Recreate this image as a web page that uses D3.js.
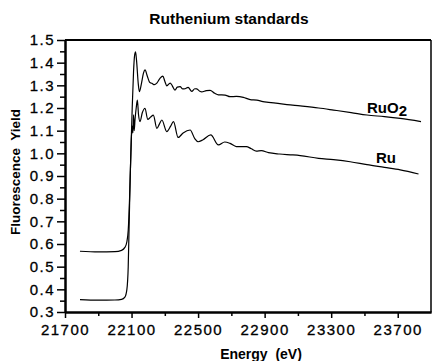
<!DOCTYPE html>
<html>
<head>
<meta charset="utf-8">
<script src="https://cdn.jsdelivr.net/npm/d3@7"></script>
<style>
  body { margin: 0; background: #fff; }
</style>
</head>
<body>
<script>
// energies (eV) and fluorescence yield
const ruo2Energy = [21790, 21900, 22000, 22040, 22060, 22072, 22080, 22088, 22096, 22104, 22112, 22118, 22124, 22130, 22140, 22147, 22160, 22172, 22181, 22195, 22210, 22222, 22237, 22252, 22270, 22288, 22300, 22312, 22332, 22345, 22361, 22375, 22392, 22408, 22422, 22440, 22462, 22480, 22492, 22510, 22522, 22550, 22572, 22600, 22622, 22662, 22692, 22730, 22772, 22813, 22853, 22890, 22923, 22980, 23034, 23114, 23224, 23314, 23420, 23515, 23620, 23715, 23840];
const ruo2Yield = [0.568, 0.565, 0.566, 0.572, 0.585, 0.61, 0.66, 0.8, 1.0, 1.2, 1.36, 1.43, 1.448, 1.41, 1.31, 1.272, 1.31, 1.355, 1.368, 1.34, 1.312, 1.309, 1.303, 1.31, 1.33, 1.341, 1.318, 1.298, 1.31, 1.298, 1.279, 1.292, 1.294, 1.284, 1.285, 1.291, 1.273, 1.285, 1.284, 1.274, 1.271, 1.277, 1.278, 1.265, 1.258, 1.257, 1.25, 1.251, 1.247, 1.237, 1.235, 1.228, 1.225, 1.22, 1.215, 1.209, 1.2, 1.191, 1.18, 1.169, 1.162, 1.154, 1.14];

const ruEnergy = [21790, 21900, 22000, 22040, 22060, 22072, 22080, 22086, 22092, 22098, 22104, 22108, 22112, 22116, 22121, 22128, 22135, 22142, 22151, 22165, 22181, 22197, 22215, 22231, 22252, 22268, 22282, 22312, 22335, 22352, 22380, 22410, 22452, 22480, 22500, 22530, 22576, 22622, 22660, 22692, 22730, 22790, 22820, 22850, 22880, 22923, 22990, 23070, 23114, 23224, 23314, 23414, 23515, 23620, 23715, 23825];
const ruYield = [0.355, 0.352, 0.353, 0.356, 0.366, 0.4, 0.5, 0.7, 0.9, 1.05, 1.12, 1.09, 1.17, 1.1, 1.15, 1.2, 1.235, 1.17, 1.14, 1.18, 1.199, 1.15, 1.16, 1.169, 1.11, 1.13, 1.147, 1.096, 1.12, 1.14, 1.07, 1.09, 1.103, 1.065, 1.051, 1.06, 1.081, 1.037, 1.05, 1.044, 1.03, 1.03, 1.02, 1.01, 1.012, 1.003, 0.997, 0.993, 0.99, 0.978, 0.972, 0.963, 0.95, 0.938, 0.927, 0.909];

const xMajor = [21700, 22100, 22500, 22900, 23300, 23700];
const yMajor = [0.3, 0.4, 0.5, 0.6, 0.7, 0.8, 0.9, 1.0, 1.1, 1.2, 1.3, 1.4, 1.5];

const canvasW = 432;
const canvasH = 361;
const plotL = 65, plotR = 431, plotT = 40, plotB = 312;

const svg = d3.select("body").append("svg")
  .attr("width", canvasW)
  .attr("height", canvasH);

const x = d3.scaleLinear().domain([21700, 23900]).range([plotL, plotR]);
const y = d3.scaleLinear().domain([0.3, 1.5]).range([plotB, plotT]);

// title
svg.append("text")
  .attr("x", 229)
  .attr("y", 24)
  .attr("text-anchor", "middle")
  .attr("font-family", "Liberation Sans, Arial, sans-serif")
  .attr("font-weight", "bold")
  .attr("font-size", "15.5px")
  .text("Ruthenium standards");

// frame: top and right lines
svg.append("line")
  .attr("x1", plotL).attr("x2", plotR)
  .attr("y1", plotT).attr("y2", plotT)
  .attr("stroke", "black").attr("stroke-width", 2);
svg.append("line")
  .attr("x1", plotR).attr("x2", plotR)
  .attr("y1", plotT).attr("y2", plotB)
  .attr("stroke", "black").attr("stroke-width", 1.5);

// minor ticks
const xMinor = d3.range(21900, 23900, 400);
const yMinor = d3.range(0.35, 1.5, 0.1);

const xAxis = svg.append("g")
  .attr("transform", `translate(0,${plotB})`)
  .call(d3.axisBottom(x).tickValues(xMajor).tickFormat(d3.format("d")).tickSize(6).tickSizeOuter(0));
svg.append("g")
  .attr("transform", `translate(0,${plotB})`)
  .call(d3.axisBottom(x).tickValues(xMinor).tickFormat("").tickSize(4).tickSizeOuter(0));

const yAxis = svg.append("g")
  .attr("transform", `translate(${plotL},0)`)
  .call(d3.axisLeft(y).tickValues(yMajor).tickFormat(d3.format(".1f")).tickSize(8).tickSizeOuter(0));
svg.append("g")
  .attr("transform", `translate(${plotL},0)`)
  .call(d3.axisLeft(y).tickValues(yMinor).tickFormat("").tickSize(5).tickSizeOuter(0));

svg.selectAll(".domain").attr("stroke", "black").attr("stroke-width", 2);
svg.selectAll(".tick line").attr("stroke", "black").attr("stroke-width", 1.5);
svg.selectAll(".tick text")
  .attr("font-family", "Liberation Sans, Arial, sans-serif")
  .attr("font-size", "15px")
  .attr("letter-spacing", "1.5px")
  .attr("fill", "black")
  .attr("stroke", "black")
  .attr("stroke-width", 0.3);
xAxis.selectAll(".tick text").attr("dy", "0.9em");
yAxis.selectAll(".tick text").attr("x", -10);

// curves
const line = d3.line()
  .x(d => x(d[0]))
  .y(d => y(d[1]))
  .curve(d3.curveMonotoneX);

svg.append("path")
  .datum(ruo2Energy.map((e, i) => [e, ruo2Yield[i]]))
  .attr("d", line)
  .attr("fill", "none")
  .attr("stroke", "black")
  .attr("stroke-width", 1.2);

svg.append("path")
  .datum(ruEnergy.map((e, i) => [e, ruYield[i]]))
  .attr("d", line)
  .attr("fill", "none")
  .attr("stroke", "black")
  .attr("stroke-width", 1.2);

// series labels
const ruo2Label = svg.append("text")
  .attr("x", 367)
  .attr("y", 113)
  .attr("font-family", "Liberation Sans, Arial, sans-serif")
  .attr("font-weight", "bold")
  .attr("font-size", "15px")
  .text("RuO");
ruo2Label.append("tspan")
  .attr("dy", 3)
  .text("2");

svg.append("text")
  .attr("x", 376)
  .attr("y", 163)
  .attr("font-family", "Liberation Sans, Arial, sans-serif")
  .attr("font-weight", "bold")
  .attr("font-size", "15px")
  .text("Ru");

// axis titles
svg.append("text")
  .attr("transform", "translate(20,172) rotate(-90)")
  .attr("text-anchor", "middle")
  .attr("font-family", "Liberation Sans, Arial, sans-serif")
  .attr("font-weight", "bold")
  .attr("font-size", "13.5px")
  .attr("xml:space", "preserve")
  .text("Fluorescence  Yield");

svg.append("text")
  .attr("x", 261)
  .attr("y", 359)
  .attr("text-anchor", "middle")
  .attr("font-family", "Liberation Sans, Arial, sans-serif")
  .attr("font-weight", "bold")
  .attr("font-size", "14px")
  .attr("xml:space", "preserve")
  .text("Energy  (eV)");
</script>
</body>
</html>
